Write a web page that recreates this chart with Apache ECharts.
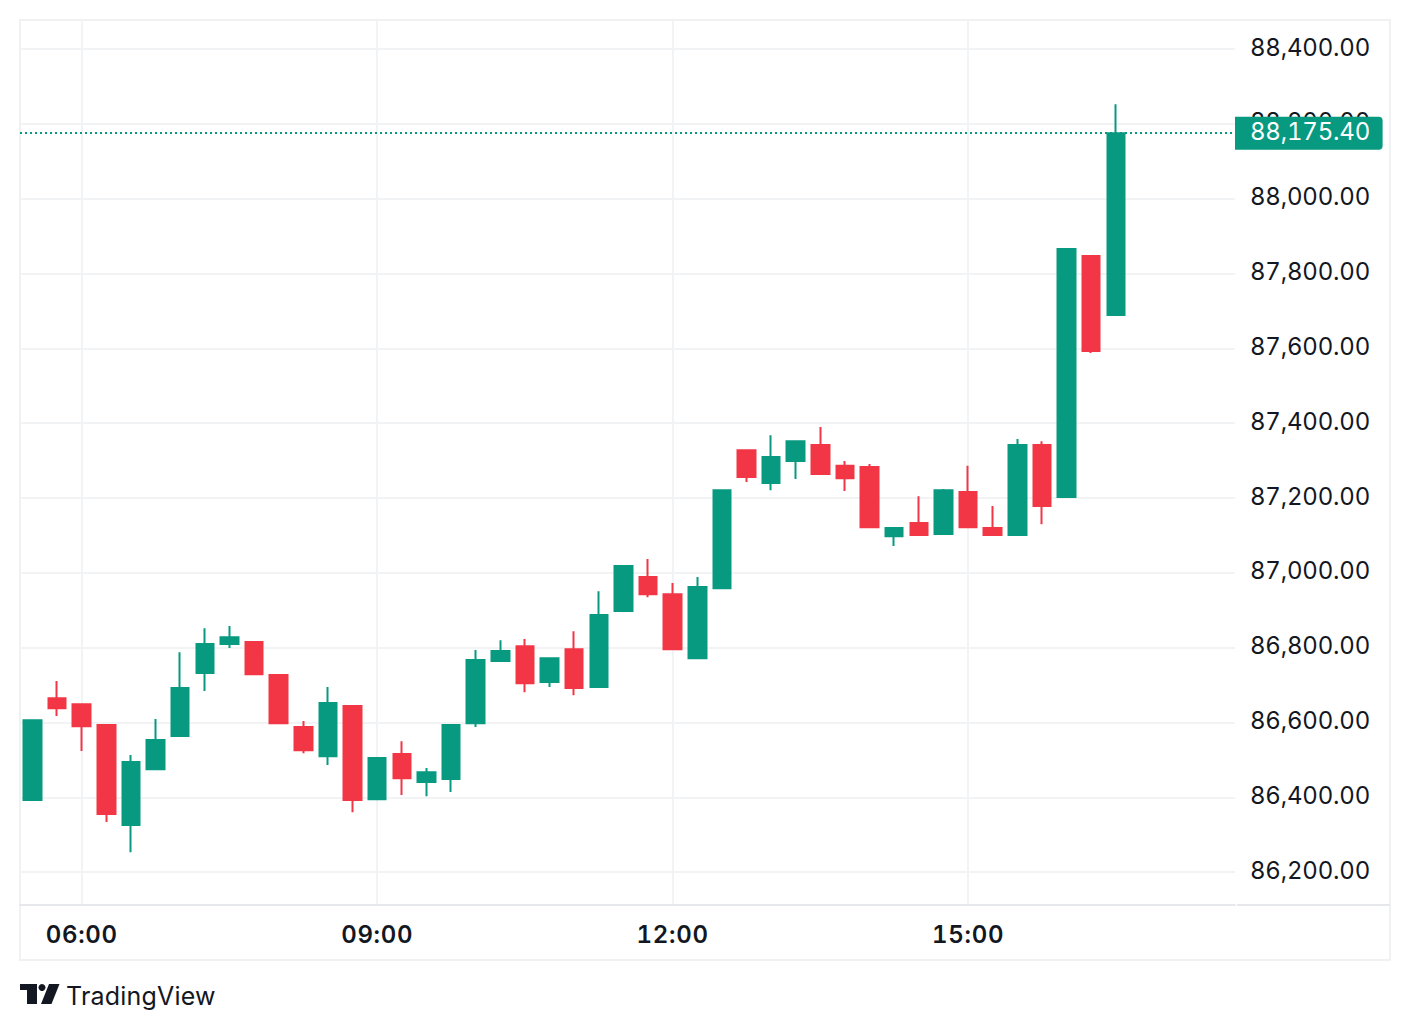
<!DOCTYPE html>
<html>
<head>
<meta charset="utf-8">
<title>TradingView</title>
<script src="https://cdn.jsdelivr.net/npm/echarts@6/dist/echarts.min.js"></script>
<style>
    html, body { margin: 0; padding: 0; background: #fff; }
    #chart { width: 1410px; height: 1030px; }
    /* price scale digits line up in the original */
    #chart text { font-variant-numeric: tabular-nums !important; letter-spacing: -0.2px !important; translate: 0 -2px; }
    #chart text[style*="600"] { letter-spacing: 0.7px !important; }
    #chart text[style*="25px"] { letter-spacing: 0.2px !important; }
</style>
</head>
<body>
<div id="chart"></div>
<script>
// 15 min bars
var barTimes = ['05:30', '05:45', '06:00', '06:15', '06:30', '06:45', '07:00', '07:15', '07:30', '07:45', '08:00', '08:15', '08:30', '08:45', '09:00', '09:15', '09:30', '09:45', '10:00', '10:15', '10:30', '10:45', '11:00', '11:15', '11:30', '11:45', '12:00', '12:15', '12:30', '12:45', '13:00', '13:15', '13:30', '13:45', '14:00', '14:15', '14:30', '14:45', '15:00', '15:15', '15:30', '15:45', '16:00', '16:15', '16:30'];
var opens = [86393, 86665, 86649, 86593, 86326, 86475, 86564, 86732, 86810, 86815, 86727, 86588, 86510, 86644, 86395, 86516, 86441, 86449, 86598, 86764, 86804, 86708, 86796, 86695, 86898, 86989, 86943, 86772, 86959, 87328, 87240, 87299, 87342, 87286, 87283, 87098, 87133, 87104, 87216, 87120, 87101, 87342, 87203, 87847, 87689];
var closes = [86606, 86638, 86590, 86355, 86494, 86553, 86692, 86810, 86828, 86729, 86598, 86526, 86652, 86393, 86505, 86451, 86467, 86593, 86767, 86791, 86705, 86772, 86692, 86887, 87018, 86943, 86796, 86962, 87221, 87256, 87310, 87352, 87264, 87253, 87122, 87120, 87101, 87221, 87122, 87101, 87342, 87179, 87866, 87593, 88175.4];
var lows = [86393, 86617, 86524, 86334, 86253, 86475, 86564, 86684, 86799, 86729, 86598, 86518, 86486, 86360, 86392, 86406, 86403, 86414, 86588, 86764, 86681, 86695, 86673, 86695, 86898, 86935, 86796, 86772, 86959, 87243, 87221, 87251, 87264, 87219, 87122, 87072, 87101, 87104, 87122, 87101, 87101, 87130, 87203, 87588, 87689];
var highs = [86606, 86711, 86649, 86593, 86513, 86609, 86788, 86852, 86858, 86815, 86727, 86604, 86695, 86644, 86508, 86550, 86478, 86593, 86794, 86820, 86823, 86772, 86844, 86951, 87018, 87037, 86973, 86989, 87221, 87328, 87368, 87352, 87390, 87299, 87291, 87120, 87205, 87224, 87286, 87179, 87358, 87352, 87866, 87847, 88253];
var timeTicks = ['06:00', '09:00', '12:00', '15:00'];
var priceTicks = [86200, 86400, 86600, 86800, 87000, 87200, 87400, 87600, 87800, 88000, 88200, 88400];
var lastPrice = 88175.40;

var upColor = '#089981';
var downColor = '#F23645';
var gridColor = '#F2F3F5';
var textColor = '#131722';
var fontName = 'Inter';

function toMinutes(t) {
    var p = t.split(':');
    return parseInt(p[0], 10) * 60 + parseInt(p[1], 10);
}

function toClock(m) {
    var h = Math.floor(m / 60);
    var mm = m % 60;
    return (h < 10 ? '0' : '') + h + ':' + (mm < 10 ? '0' : '') + mm;
}

function formatPrice(v) {
    return v.toLocaleString('en-US', { minimumFractionDigits: 2, maximumFractionDigits: 2 });
}

function Chart() {
    var candles = barTimes.map(function (t, i) {
        return [toMinutes(t), opens[i], closes[i], lows[i], highs[i]];
    });
    var timeValues = timeTicks.map(toMinutes);

    var option = {
        animation: false,
        backgroundColor: '#ffffff',
        textStyle: { fontFamily: fontName },
        grid: { left: 20, right: 175, top: 20, bottom: 125, containLabel: false },
        xAxis: {
            type: 'value',
            min: 322.4,
            max: 1062.6,
            axisLine: { show: true, onZero: false, lineStyle: { color: '#E6E8EC', width: 2 } },
            axisTick: { show: false, customValues: timeValues },
            splitLine: { show: true, lineStyle: { color: gridColor, width: 2 } },
            axisLabel: {
                customValues: timeValues,
                formatter: function (v) { return toClock(v); },
                color: textColor,
                fontFamily: fontName,
                fontSize: 24,
                fontWeight: 600,
                margin: 19
            }
        },
        yAxis: {
            type: 'value',
            position: 'right',
            min: 86112,
            max: 88478,
            axisLine: { show: false },
            axisTick: { show: false, customValues: priceTicks },
            splitLine: { show: true, lineStyle: { color: gridColor, width: 2 } },
            axisLabel: {
                customValues: priceTicks,
                formatter: function (v) { return formatPrice(v); },
                color: textColor,
                fontFamily: fontName,
                fontSize: 24,
                margin: 15
            }
        },
        series: [{
            type: 'candlestick',
            data: candles,
            barWidth: 18,
            itemStyle: {
                color: upColor,
                color0: downColor,
                borderColor: upColor,
                borderColor0: downColor,
                borderWidth: 2
            },
            markLine: {
                silent: true,
                symbol: 'none',
                data: [{ yAxis: lastPrice }],
                lineStyle: { color: upColor, type: [2, 3], width: 2 },
                label: {
                    position: 'end',
                    distance: 0,
                    formatter: formatPrice(lastPrice),
                    color: '#ffffff',
                    fontFamily: fontName,
                    fontSize: 24,
                    backgroundColor: upColor,
                    padding: [5, 24, 4, 15],
                    borderRadius: [0, 4, 4, 0]
                }
            }
        }],
        graphic: [
            // outer frame
            {
                type: 'rect',
                z: -1,
                shape: { x: 20, y: 20, width: 1370, height: 940 },
                style: { fill: 'none', stroke: '#F0F1F3', lineWidth: 2 }
            },
            // axis line under the price scale
            {
                type: 'line',
                z: -1,
                shape: { x1: 1237, y1: 905, x2: 1390, y2: 905 },
                style: { stroke: '#E6E8EC', lineWidth: 2 }
            },
            // logo
            {
                type: 'polygon',
                shape: { points: [[20, 984], [37, 984], [37, 1004], [27, 1004], [27, 990], [20, 990]] },
                style: { fill: textColor }
            },
            {
                type: 'circle',
                shape: { cx: 42, cy: 987.5, r: 3.5 },
                style: { fill: textColor }
            },
            {
                type: 'polygon',
                shape: { points: [[49, 984], [59.5, 984], [51.5, 1004], [41, 1004]] },
                style: { fill: textColor }
            },
            {
                type: 'text',
                x: 66,
                y: 998,
                style: {
                    text: 'TradingView',
                    fill: textColor,
                    font: '400 25px Inter',
                    textVerticalAlign: 'middle'
                }
            }
        ]
    };
    var myChart = echarts.init(document.querySelector('#chart'), null, { renderer: 'svg' });
    myChart.setOption(option);
}

Chart();
</script>
</body>
</html>
